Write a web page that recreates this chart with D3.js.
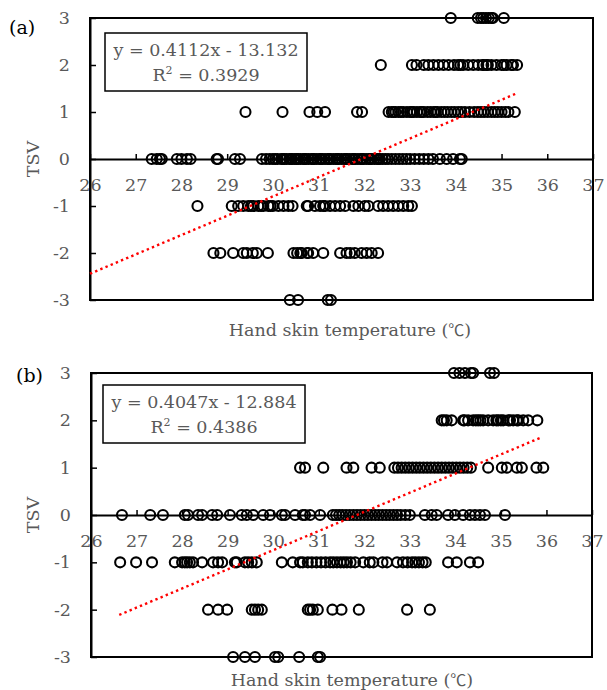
<!DOCTYPE html>
<html>
<head>
<meta charset="utf-8">
<script src="https://cdn.jsdelivr.net/npm/d3@7"></script>
<style>
  body { margin: 0; background: #fff; }
  text { font-family: "DejaVu Serif", serif; }
</style>
</head>
<body>
<div id="viz"></div>
<script>
var width = 607, height = 690;

var xTicks = [26, 27, 28, 29, 30, 31, 32, 33, 34, 35, 36, 37];
var yTicks = [-3, -2, -1, 0, 1, 2, 3];
var xTitle = "Hand skin temperature (";
var xUnit = "℃";
var yTitle = "TSV";
var tsvLevels = [3, 2, 1, 0, -1, -2, -3];

// panel (a): hand skin temperature of each vote, grouped by TSV level
var a_tsv3 = [33.89, 34.48, 34.55, 34.6, 34.66, 34.72, 34.78, 34.81, 35.05];
var a_tsv2 = [32.36, 33.04, 33.14, 33.3, 33.4, 33.51, 33.62, 33.73, 33.84, 33.96, 34.05, 34.1, 34.16,
  34.27, 34.38, 34.49, 34.59, 34.6, 34.67, 34.7, 34.78, 34.89, 35.0, 35.05, 35.11, 35.22, 35.25, 35.34];
var a_tsv1 = [29.4, 30.21, 30.8, 30.97, 31.14, 31.84, 31.95, 32.53, 32.6, 32.64, 32.68, 32.75, 32.8,
  32.85, 32.93, 33.0, 33.04, 33.08, 33.15, 33.22, 33.26, 33.3, 33.38, 33.45, 33.52, 33.56, 33.6, 33.68,
  33.75, 33.82, 33.9, 33.97, 34.05, 34.12, 34.2, 34.3, 34.4, 34.48, 34.55, 34.62, 34.7, 34.78, 34.85,
  34.92, 35.0, 35.08, 35.15, 35.29];
var a_tsv0 = [27.35, 27.46, 27.53, 27.57, 27.9, 28.0, 28.12, 28.2, 28.77, 28.8, 29.17, 29.28, 29.76,
  29.85, 29.93, 30.0, 30.05, 30.1, 30.18, 30.22, 30.25, 30.3, 30.36, 30.4, 30.42, 30.48, 30.52, 30.55,
  30.6, 30.66, 30.7, 30.72, 30.78, 30.84, 30.88, 30.9, 30.96, 31.02, 31.05, 31.08, 31.14, 31.2, 31.23,
  31.26, 31.32, 31.38, 31.41, 31.44, 31.5, 31.56, 31.6, 31.62, 31.68, 31.74, 31.77, 31.8, 31.86, 31.92,
  31.95, 31.98, 32.04, 32.1, 32.13, 32.16, 32.22, 32.28, 32.31, 32.34, 32.4, 32.46, 32.52, 32.6, 32.68,
  32.76, 32.84, 32.92, 33.0, 33.1, 33.2, 33.3, 33.4, 33.5, 33.65, 33.8, 33.94, 34.09, 34.13];
var a_tsvm1 = [28.35, 29.1, 29.24, 29.35, 29.46, 29.52, 29.57, 29.68, 29.74, 29.79, 29.9, 29.95, 30.0,
  30.12, 30.23, 30.34, 30.43, 30.74, 30.77, 30.92, 31.03, 31.1, 31.14, 31.25, 31.36, 31.47, 31.58,
  31.76, 31.87, 32.01, 32.09, 32.3, 32.41, 32.52, 32.63, 32.74, 32.85, 32.96, 33.04];
var a_tsvm2 = [28.7, 28.85, 29.13, 29.35, 29.43, 29.56, 29.65, 29.89, 30.45, 30.53, 30.6, 30.75, 30.63,
  30.77, 30.88, 31.1, 31.47, 31.61, 31.69, 31.79, 31.94, 32.05, 32.16, 32.3];
var a_tsvm3 = [30.37, 30.55, 31.2, 31.27];
var a_slope = 0.4112, a_intercept = -13.132, a_r2 = "0.3929", a_trendRange = [26, 35.36];

// panel (b)
var b_tsv3 = [33.97, 34.09, 34.21, 34.34, 34.39, 34.76, 34.85];
var b_tsv2 = [33.7, 33.75, 33.81, 33.92, 34.17, 34.2, 34.28, 34.39, 34.45, 34.5, 34.55, 34.61, 34.72,
  34.83, 34.9, 34.94, 35.0, 35.05, 35.16, 35.2, 35.27, 35.35, 35.38, 35.49, 35.6, 35.8];
var b_tsv1 = [30.59, 30.7, 31.1, 31.61, 31.76, 32.16, 32.34, 32.66, 32.74, 32.82, 32.9, 32.98, 33.06,
  33.14, 33.22, 33.3, 33.38, 33.46, 33.54, 33.62, 33.7, 33.78, 33.86, 33.94, 34.02, 34.1, 34.18, 34.26,
  34.34, 34.72, 35.02, 35.13, 35.35, 35.46, 35.78, 35.93];
var b_tsv0 = [26.68, 27.3, 27.58, 28.06, 28.13, 28.35, 28.44, 28.66, 28.77, 29.05, 29.31, 29.42, 29.56,
  29.78, 29.93, 30.19, 30.26, 30.48, 30.65, 30.7, 30.81, 31.03, 31.31, 31.38, 31.45, 31.52, 31.6, 31.68,
  31.76, 31.84, 31.92, 32.0, 32.08, 32.16, 32.24, 32.32, 32.4, 32.48, 32.56, 32.64, 32.72, 32.8, 32.9,
  33.0, 33.33, 33.48, 33.59, 33.84, 33.99, 34.17, 34.32, 34.43, 34.54, 34.65, 35.09];
var b_tsvm1 = [26.64, 26.99, 27.34, 27.84, 28.0, 28.06, 28.11, 28.17, 28.24, 28.44, 28.68, 28.79, 28.88,
  29.16, 29.2, 29.38, 29.45, 29.53, 29.64, 30.19, 30.43, 30.59, 30.76, 30.65, 30.85, 30.95, 31.05,
  31.15, 31.25, 31.32, 31.4, 31.48, 31.55, 31.62, 31.7, 31.8, 31.98, 32.12, 32.2, 32.4, 32.5, 32.72,
  32.85, 32.95, 33.05, 33.12, 33.2, 33.28, 33.35, 33.84, 34.03, 34.32, 34.5];
var b_tsvm2 = [28.57, 28.79, 28.99, 29.53, 29.6, 29.67, 29.75, 30.76, 30.81, 30.87, 30.98, 31.3, 31.5,
  31.88, 32.94, 33.44];
var b_tsvm3 = [29.12, 29.38, 29.6, 30.04, 30.11, 30.57, 30.98, 31.03];
var b_slope = 0.4047, b_intercept = -12.884, b_r2 = "0.4386", b_trendRange = [26.62, 35.85];

var grey = "#595959";

var svg = d3.select("#viz").append("svg")
  .attr("width", width)
  .attr("height", height);

function rowsOf(lists) {
  var out = [];
  lists.forEach(function(vals, i) {
    vals.forEach(function(v) { out.push({x: v, y: tsvLevels[i]}); });
  });
  return out;
}

function drawPanel(p) {
  var x = d3.scaleLinear().domain([26, 37]).range([p.left, p.right]);
  var y = d3.scaleLinear().domain([-3, 3]).range([p.bottom, p.top]);
  var g = svg.append("g");

  // plot frame
  g.append("rect")
    .attr("x", p.left).attr("y", p.top)
    .attr("width", p.right - p.left).attr("height", p.bottom - p.top)
    .attr("fill", "none").attr("stroke", "#000").attr("stroke-width", 2);

  // x axis sits on TSV = 0
  var xa = g.append("g")
    .attr("transform", "translate(0," + y(0) + ")")
    .call(d3.axisBottom(x).tickValues(xTicks).tickFormat(d => String(d))
      .tickSizeInner(-5).tickSizeOuter(0).tickPadding(20));
  xa.select(".domain").attr("stroke-width", 2);
  xa.selectAll(".tick line").attr("stroke-width", 1.5);
  xa.selectAll(".tick text").attr("fill", grey).style("font-size", "17.5px");

  var ya = g.append("g")
    .attr("transform", "translate(" + p.left + ",0)")
    .call(d3.axisLeft(y).tickValues(yTicks).tickFormat(d => String(d))
      .tickSizeInner(-6).tickSizeOuter(0).tickPadding(20));
  ya.select(".domain").attr("stroke-width", 2);
  ya.selectAll(".tick line").attr("stroke-width", 1.5);
  ya.selectAll(".tick text").attr("fill", grey).style("font-size", "17.5px");

  // data points
  g.append("g").selectAll("circle")
    .data(p.points)
    .join("circle")
    .attr("cx", d => x(d.x))
    .attr("cy", d => y(d.y))
    .attr("r", 5)
    .attr("fill", "none")
    .attr("stroke", "#000")
    .attr("stroke-width", 2.1);

  // linear trendline
  var line = d3.line().x(d => x(d)).y(d => y(p.slope * d + p.intercept));
  g.append("path")
    .datum(p.trendRange)
    .attr("d", line)
    .attr("fill", "none")
    .attr("stroke", "#ff0000")
    .attr("stroke-width", 2.4)
    .attr("stroke-dasharray", "2.4,3.2");

  // equation box
  g.append("rect")
    .attr("x", p.box[0]).attr("y", p.box[1])
    .attr("width", p.box[2]).attr("height", p.box[3])
    .attr("fill", "#fff").attr("stroke", "#000").attr("stroke-width", 1.5);
  var cx = p.box[0] + p.box[2] / 2;
  g.append("text")
    .attr("x", cx).attr("y", p.box[1] + 23)
    .attr("text-anchor", "middle").attr("fill", grey).style("font-size", "17.5px")
    .text("y = " + p.slope.toFixed(4) + "x - " + (-p.intercept).toFixed(3));
  var r2 = g.append("text")
    .attr("x", cx).attr("y", p.box[1] + 48)
    .attr("text-anchor", "middle").attr("fill", grey).style("font-size", "17.5px");
  r2.append("tspan").text("R");
  r2.append("tspan").attr("dy", -7).style("font-size", "11px").text("2");
  r2.append("tspan").attr("dy", 7).text(" = " + p.r2);

  // titles
  g.append("text")
    .attr("transform", "translate(" + 39 + "," + ((p.top + p.bottom) / 2) + ") rotate(-90)")
    .attr("text-anchor", "middle").attr("fill", grey).style("font-size", "17.5px")
    .text(yTitle);
  var xt = g.append("text")
    .attr("x", p.xTitleX).attr("y", p.xTitleY)
    .attr("text-anchor", "middle").attr("fill", grey).style("font-size", "17.5px");
  xt.append("tspan").text(xTitle);
  xt.append("tspan").style("font-family", "'Noto Sans CJK SC'").style("font-size", "16px").text(xUnit);
  xt.append("tspan").text(")");
  g.append("text")
    .attr("x", p.labelX).attr("y", p.labelY)
    .attr("fill", "#000").style("font-size", "19px")
    .text(p.label);
}

drawPanel({
  label: "(a)", labelX: 9, labelY: 34,
  left: 90, right: 593, top: 18, bottom: 300,
  box: [105, 33, 202, 58],
  xTitleX: 350, xTitleY: 336,
  slope: a_slope, intercept: a_intercept, r2: a_r2, trendRange: a_trendRange,
  points: rowsOf([a_tsv3, a_tsv2, a_tsv1, a_tsv0, a_tsvm1, a_tsvm2, a_tsvm3])
});

drawPanel({
  label: "(b)", labelX: 16, labelY: 382,
  left: 91, right: 592, top: 373, bottom: 657,
  box: [103, 385, 202, 58],
  xTitleX: 352, xTitleY: 686,
  slope: b_slope, intercept: b_intercept, r2: b_r2, trendRange: b_trendRange,
  points: rowsOf([b_tsv3, b_tsv2, b_tsv1, b_tsv0, b_tsvm1, b_tsvm2, b_tsvm3])
});
</script>
</body>
</html>
